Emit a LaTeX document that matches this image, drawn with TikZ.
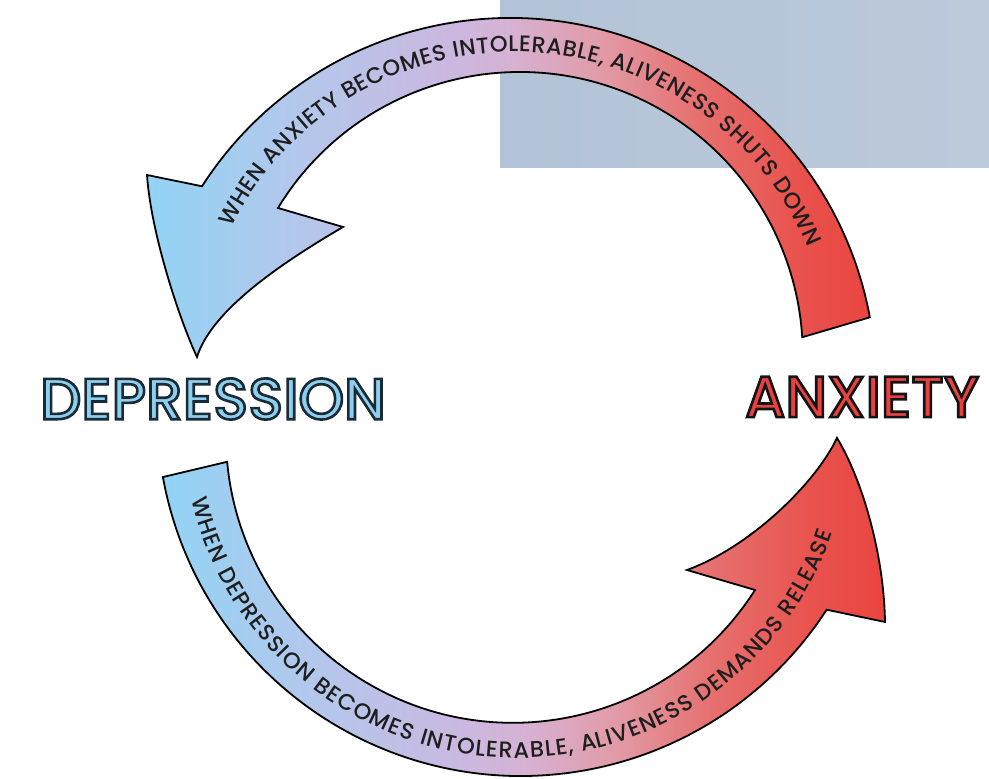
\documentclass[tikz,border=0pt]{standalone}
\usepackage{fontspec}
\usetikzlibrary{decorations.text}
\newfontfamily\arcfont{Poppins Medium}
\newfontfamily\lblfont{Poppins Medium}[FakeBold=4.5]
\definecolor{cA}{HTML}{92D3F4}
\definecolor{cB}{HTML}{B2C8EC}
\definecolor{cC}{HTML}{CBB8E0}
\definecolor{cD}{HTML}{D6B2D4}
\definecolor{cE}{HTML}{E29AA6}
\definecolor{cF}{HTML}{E6706F}
\definecolor{cG}{HTML}{E9524D}
\definecolor{cH}{HTML}{EA4540}
\definecolor{rectL}{HTML}{B3C3D7}
\definecolor{rectR}{HTML}{BCC9DB}
\definecolor{arctxt}{HTML}{1E1E1E}
\definecolor{depfill}{HTML}{8DCFEF}
\definecolor{anxfill}{HTML}{E8413F}
\newcommand{\strokeDark}{\special{pdf:literal direct 0.106 0.169 0.212 RG}}
\newcommand{\strokeBlack}{\special{pdf:literal direct 0.08 0.08 0.08 RG}}
\pgfdeclarehorizontalshading{cycshade}{100bp}{color(0bp)=(cA); color(25bp)=(cA); color(35bp)=(cB); color(46bp)=(cC); color(50bp)=(cD); color(56.5bp)=(cE); color(63bp)=(cF); color(70bp)=(cG); color(75bp)=(cH); color(100bp)=(cH)}
\begin{document}
\begin{tikzpicture}[x=1pt,y=1pt,
  arrowband/.style={draw=black, line width=1.8pt, line join=miter, shade, shading=cycshade},
  arctext/.style={decorate, decoration={text along path, text align=fit to path, text color=arctxt}},
  cyclabel/.style={inner sep=0pt, font=\lblfont\fontsize{58}{58}\selectfont}]
\useasboundingbox (0,0) rectangle (989,779);
\fill[white] (0,0) rectangle (989,779);
\shade[left color=rectL, right color=rectR] (500,611) rectangle (989,779);

% top arrow: anxiety -> depression
\path[arrowband] (510,395) ++(10.5:366) arc[start angle=10.5, end angle=147.3, radius=366]
  -- (147,604) .. controls (151,545) and (180,458) .. (197,422)
  .. controls (212,470) and (285,518) .. (343,552)
  -- (278,571) arc[start angle=148.7, end angle=3.6, radius=283] -- cycle;

% bottom arrow: depression -> anxiety
\path[arrowband] (521,367) ++(190.3:364) arc[start angle=190.3, end angle=327.1, radius=364]
  -- (885,157) .. controls (884,225) and (862,300) .. (837,341)
  .. controls (815,295) and (750,232) .. (687,209)
  -- (755,189) arc[start angle=327.5, end angle=185.2, radius=287] -- cycle;

\path[arctext, decoration={text={|\arcfont\fontsize{22.5}{22.5}\selectfont|WHEN ANXIETY BECOMES INTOLERABLE, ALIVENESS SHUTS DOWN}}]
  (515,410) ++(153.5:317) arc[start angle=153.5, end angle=22.5, radius=317];
\path[arctext, decoration={text={|\arcfont\fontsize{22.5}{22.5}\selectfont|WHEN DEPRESSION BECOMES INTOLERABLE, ALIVENESS DEMANDS RELEASE}}]
  (517,355) ++(193:334) arc[start angle=193, end angle=341, radius=334];

\node[cyclabel, text=depfill] (dep) at (213,380) {\strokeDark DEPRESSION};
\node[cyclabel, text=anxfill] (anx) at (862,382) {\strokeBlack ANXIETY};
\end{tikzpicture}
\end{document}
